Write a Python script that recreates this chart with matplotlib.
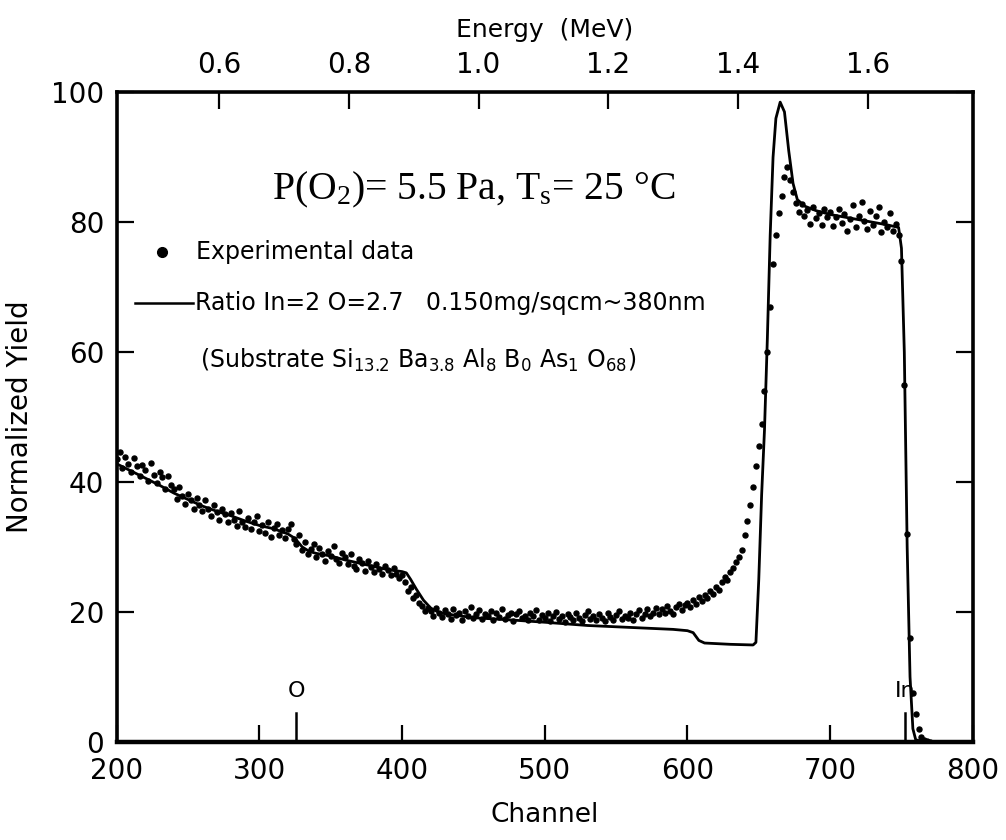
import numpy as np
import matplotlib
matplotlib.use("Agg")
import matplotlib.pyplot as plt

plt.rcParams["mathtext.default"] = "regular"

# Measured spectrum: yield every 2 channels
channels = np.arange(200, 772, 2)
measured_yield = [
    # 200-238
    43.5, 44.6, 42.1, 43.9, 42.8, 41.6, 43.7, 42.4, 40.9, 42.6,
    41.8, 40.2, 42.9, 41.1, 39.8, 41.5, 40.7, 38.9, 40.9, 39.6,
    # 240-278
    38.9, 37.4, 39.2, 37.8, 36.6, 38.1, 37.3, 35.9, 37.6, 36.4,
    35.6, 37.2, 35.9, 34.8, 36.5, 35.4, 34.2, 35.8, 35.1, 33.9,
    # 280-318
    35.3, 34.1, 33.2, 35.6, 33.8, 33.0, 34.5, 32.7, 33.9, 34.8,
    32.5, 33.4, 32.2, 33.8, 31.6, 32.9, 33.5, 31.8, 32.6, 31.4,
    # 320-358
    32.8, 33.6, 31.2, 30.4, 31.9, 29.6, 30.8, 28.9, 29.7, 30.5,
    28.4, 29.8, 28.9, 27.8, 29.4, 28.6, 30.1, 28.2, 27.6, 29.0,
    # 360-398
    28.5, 27.4, 28.9, 27.1, 26.6, 28.2, 27.5, 26.3, 27.8, 26.9,
    26.1, 27.4, 26.6, 25.8, 27.1, 26.4, 25.6, 26.8, 25.9, 25.2,
    # 400-418
    25.7, 24.6, 23.2, 23.8, 22.1, 22.6, 21.3, 20.9, 20.2, 20.6,
    # 420-458
    20.1, 19.4, 20.6, 19.8, 19.2, 20.3, 19.6, 18.9, 20.4, 19.5,
    19.9, 18.8, 20.2, 19.4, 20.7, 19.1, 19.7, 20.3, 18.9, 19.6,
    # 460-498
    19.3, 20.1, 18.7, 19.8, 19.2, 20.4, 18.9, 19.5, 19.9, 18.6,
    19.7, 20.2, 19.0, 19.4, 18.8, 19.9, 19.3, 20.3, 18.7, 19.5,
    # 500-538
    19.1, 19.8, 18.6, 19.4, 20.0, 18.9, 19.3, 18.5, 19.7, 19.2,
    18.8, 19.9, 19.0, 18.6, 19.5, 20.1, 18.9, 19.3, 18.7, 19.6,
    # 540-578
    19.0, 18.6, 19.8, 19.2, 18.8, 19.5, 20.2, 18.9, 19.4, 19.0,
    19.9, 18.7, 19.6, 20.3, 19.1, 19.7, 20.4, 19.3, 19.9, 20.6,
    # 580-598
    19.6, 20.4, 19.8, 20.9, 20.1, 19.7, 20.8, 21.2, 20.3, 21.0,
    # 600-648
    21.4, 20.8, 21.9, 21.2, 22.3, 21.7, 22.6, 22.1, 23.2, 22.8,
    23.9, 23.4, 24.6, 25.3, 24.9, 26.1, 26.8, 27.7, 28.4, 29.6,
    31.8, 34.0, 36.5, 39.2, 42.4,
    # 650-698
    45.5, 49.0, 54.0, 60.0, 67.0, 73.5, 78.0, 81.5, 84.0, 87.0,
    88.5, 86.5, 84.6, 83.0, 81.6, 82.8, 80.9, 81.9, 79.8, 82.4,
    80.6, 81.5, 79.6, 82.0, 80.8,
    # 700-748
    81.6, 79.4, 80.8, 82.1, 79.9, 81.2, 78.7, 80.5, 82.6, 79.3,
    81.0, 83.1, 80.2, 78.9, 81.7, 79.6, 80.9, 82.3, 78.5, 80.1,
    79.2, 81.4, 78.6, 79.8, 78.1,
    # 750-770
    74.0, 55.0, 32.0, 16.0, 7.5, 4.2, 2.0, 0.8, 0.3, 0.1, 0.0,
]

# Simulated spectrum (fit)
sim_channels = [
    200, 210, 220, 230, 240, 250, 260, 270, 280, 290, 300, 310, 320, 325,
    330, 335, 340, 350, 360, 370, 380, 390, 400, 403, 406, 410, 415, 420,
    425, 430, 450, 480, 500, 530, 560, 590, 600, 604, 608, 612, 630, 646,
    648, 650, 652, 654, 656, 658, 660, 662, 665, 668, 671, 674, 677, 682,
    690, 700, 710, 720, 730, 740, 748, 750, 752, 754, 756, 758, 760, 765,
    800,
]
sim_yield = [
    42.8, 41.7, 40.6, 39.5, 38.3, 37.3, 36.3, 35.5, 34.8, 34.0, 33.3, 32.8,
    32.0, 31.3, 30.0, 29.3, 29.0, 28.6, 28.0, 27.5, 27.0, 26.5, 26.2, 26.0,
    25.0, 23.5, 21.8, 20.6, 20.0, 19.7, 19.1, 18.7, 18.4, 17.9, 17.6, 17.3,
    17.1, 16.8, 15.6, 15.2, 15.0, 14.9, 15.3, 25.0, 38.0, 48.0, 62.0, 78.0,
    90.0, 96.0, 98.5, 97.0, 91.0, 86.0, 83.5, 82.5, 81.8, 81.2, 80.8, 80.4,
    80.0, 79.6, 79.2, 76.0, 60.0, 30.0, 10.0, 2.0, 0.3, 0.0, 0.0,
]

# Surface edge markers
edge_labels = ["O", "In"]
edge_channels = [326, 752.5]

x_ticks = [200, 300, 400, 500, 600, 700, 800]
y_ticks = [0, 20, 40, 60, 80, 100]
energy_ticks = [0.6, 0.8, 1.0, 1.2, 1.4, 1.6]

# Energy calibration (MeV per channel, offset)
kev_gain = 0.0022
kev_offset = 0.002


def ch_to_e(ch):
    return kev_gain * np.asarray(ch) + kev_offset


def e_to_ch(e):
    return (np.asarray(e) - kev_offset) / kev_gain


fig = plt.figure(figsize=(10.06, 8.4), dpi=100)
ax = fig.add_axes([0.116, 0.117, 0.851, 0.773])

ax.plot(channels, measured_yield, linestyle="none", marker="o",
        markersize=3.6, color="black", zorder=3)
ax.plot(sim_channels, sim_yield, color="black", linewidth=2.0, zorder=4)

for lab, ch in zip(edge_labels, edge_channels):
    ax.plot([ch, ch], [0, 4.5], color="black", linewidth=1.8)
    ax.text(ch, 6.3, lab, ha="center", va="bottom", fontsize=16)

ax.set_xlim(200, 800)
ax.set_ylim(0, 100)
ax.set_xticks(x_ticks)
ax.set_yticks(y_ticks)

ax.tick_params(axis="both", direction="in", length=12, width=1.6,
               labelsize=20, top=False, right=True)
ax.tick_params(axis="x", pad=11)
ax.tick_params(axis="y", pad=9)
for sp in ax.spines.values():
    sp.set_linewidth(2.6)
ax.spines["bottom"].set_linewidth(3.2)

ax.set_xlabel("Channel", fontsize=19, labelpad=12)
ax.set_ylabel("Normalized Yield", fontsize=20, labelpad=12)

secax = ax.secondary_xaxis("top", functions=(ch_to_e, e_to_ch))
secax.set_xticks(energy_ticks)
secax.set_xticklabels([f"{v:.1f}" for v in energy_ticks])
secax.tick_params(direction="in", length=12, width=1.6, labelsize=20, pad=10)
secax.set_xlabel("Energy  (MeV)", fontsize=18, labelpad=10)

ax.text(0.417, 0.850, r"P(O$_2$)= 5.5 Pa, T$_s$= 25 °C",
        transform=ax.transAxes, ha="center", va="center",
        fontsize=28.5, family="Liberation Serif")

ax.plot([0.053], [0.754], transform=ax.transAxes, marker="o",
        markersize=7, color="black", linestyle="none")
ax.text(0.093, 0.754, "Experimental data", transform=ax.transAxes,
        ha="left", va="center", fontsize=17)
ax.plot([0.021, 0.089], [0.675, 0.675], transform=ax.transAxes,
        color="black", linewidth=1.8)
ax.text(0.091, 0.675, "Ratio In=2 O=2.7   0.150mg/sqcm~380nm",
        transform=ax.transAxes, ha="left", va="center", fontsize=17)
ax.text(0.097, 0.588,
        r"(Substrate Si$_{13.2}$ Ba$_{3.8}$ Al$_{8}$ B$_{0}$ As$_{1}$ O$_{68}$)",
        transform=ax.transAxes, ha="left", va="center", fontsize=17)

fig.savefig("out.png", dpi=100)
